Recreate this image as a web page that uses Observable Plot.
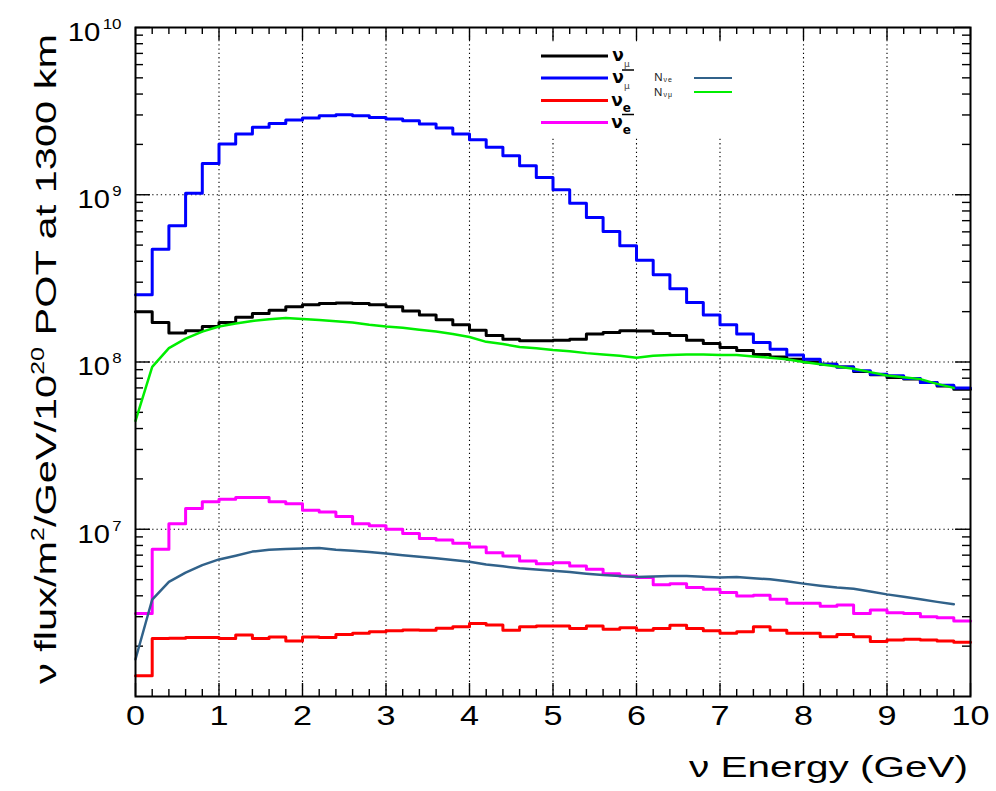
<!DOCTYPE html>
<html>
<head>
<meta charset="utf-8">
<script src="https://cdn.jsdelivr.net/npm/d3@7"></script>
<script src="https://cdn.jsdelivr.net/npm/@observablehq/plot@0.6"></script>
<style>
  body { margin: 0; background: #fff; }
  #chart { position: relative; width: 996px; height: 791px; }
  svg { font-family: "Liberation Sans", Arial, sans-serif; }
</style>
</head>
<body>
<div id="chart"></div>
<script>
// ---------- data ----------
const binWidth = 0.2;           // GeV, 50 bins from 0 to 10
const nBins = 50;

// nu_mu (black histogram)
const numuFlux = [2.00e8, 1.72e8, 1.49e8, 1.54e8, 1.63e8, 1.72e8, 1.85e8, 1.95e8, 2.04e8, 2.14e8,
  2.20e8, 2.24e8, 2.25e8, 2.24e8, 2.20e8, 2.14e8, 2.02e8, 1.91e8, 1.79e8, 1.67e8,
  1.55e8, 1.44e8, 1.37e8, 1.34e8, 1.34e8, 1.35e8, 1.37e8, 1.47e8, 1.50e8, 1.54e8,
  1.53e8, 1.48e8, 1.44e8, 1.35e8, 1.29e8, 1.22e8, 1.17e8, 1.11e8, 1.07e8, 1.04e8,
  1.00e8, 9.7e7, 9.35e7, 8.77e7, 8.38e7, 8.07e7, 7.9e7, 7.54e7, 7.18e7, 6.88e7];

// anti nu_mu (blue histogram)
const numubarFlux = [2.52e8, 4.73e8, 6.53e8, 1.02e9, 1.54e9, 2.01e9, 2.31e9, 2.53e9, 2.67e9, 2.80e9,
  2.88e9, 2.97e9, 3.01e9, 2.97e9, 2.90e9, 2.84e9, 2.77e9, 2.65e9, 2.51e9, 2.31e9,
  2.13e9, 1.92e9, 1.71e9, 1.49e9, 1.27e9, 1.07e9, 8.9e8, 7.3e8, 6.03e8, 4.95e8,
  4.06e8, 3.32e8, 2.74e8, 2.27e8, 1.91e8, 1.67e8, 1.47e8, 1.31e8, 1.19e8, 1.10e8,
  1.04e8, 9.7e7, 9.35e7, 8.85e7, 8.46e7, 8.27e7, 7.96e7, 7.54e7, 7.27e7, 6.98e7];

// nu_e (red histogram)
const nueFlux = [1.33e6, 2.22e6, 2.23e6, 2.25e6, 2.25e6, 2.22e6, 2.33e6, 2.22e6, 2.27e6, 2.15e6,
  2.27e6, 2.25e6, 2.35e6, 2.39e6, 2.44e6, 2.47e6, 2.50e6, 2.49e6, 2.56e6, 2.61e6,
  2.73e6, 2.68e6, 2.49e6, 2.61e6, 2.64e6, 2.64e6, 2.55e6, 2.64e6, 2.52e6, 2.58e6,
  2.49e6, 2.55e6, 2.67e6, 2.55e6, 2.47e6, 2.39e6, 2.44e6, 2.61e6, 2.49e6, 2.39e6,
  2.39e6, 2.28e6, 2.35e6, 2.28e6, 2.13e6, 2.18e6, 2.20e6, 2.18e6, 2.15e6, 2.11e6];

// anti nu_e (magenta histogram)
const nuebarFlux = [3.13e6, 7.59e6, 1.08e7, 1.33e7, 1.46e7, 1.51e7, 1.55e7, 1.55e7, 1.46e7, 1.42e7,
  1.30e7, 1.27e7, 1.19e7, 1.08e7, 1.05e7, 1.00e7, 9.42e6, 8.79e6, 8.63e6, 8.24e6,
  7.83e6, 7.24e6, 6.92e6, 6.46e6, 6.22e6, 6.31e6, 6.03e6, 5.77e6, 5.42e6, 5.26e6,
  5.14e6, 4.65e6, 4.73e6, 4.48e6, 4.38e6, 4.18e6, 3.99e6, 4.03e6, 3.81e6, 3.61e6,
  3.61e6, 3.47e6, 3.52e6, 3.13e6, 3.29e6, 3.17e6, 3.13e6, 3.00e6, 2.96e6, 2.83e6];

// smooth curves N_nu_e and N_nu_mu
const smoothEnergy = [0, 0.2, 0.4, 0.6, 0.8, 1.0, 1.2, 1.4, 1.6, 1.8,
  2.0, 2.2, 2.4, 2.6, 2.8, 3.0, 3.2, 3.4, 3.6, 3.8,
  4.0, 4.2, 4.4, 4.6, 4.8, 5.0, 5.2, 5.4, 5.6, 5.8,
  6.0, 6.2, 6.4, 6.6, 6.8, 7.0, 7.2, 7.4, 7.6, 7.8,
  8.0, 8.2, 8.4, 8.6, 8.8, 9.0, 9.2, 9.4, 9.6, 9.8];
const nNumu = [4.45e7, 9.35e7, 1.21e8, 1.38e8, 1.52e8, 1.63e8, 1.70e8, 1.76e8, 1.80e8, 1.83e8,
  1.81e8, 1.78e8, 1.75e8, 1.72e8, 1.67e8, 1.63e8, 1.60e8, 1.56e8, 1.52e8, 1.47e8,
  1.41e8, 1.32e8, 1.28e8, 1.23e8, 1.21e8, 1.18e8, 1.16e8, 1.13e8, 1.11e8, 1.09e8,
  1.06e8, 1.09e8, 1.10e8, 1.11e8, 1.11e8, 1.10e8, 1.10e8, 1.08e8, 1.06e8, 1.04e8,
  1.00e8, 9.7e7, 9.4e7, 9.1e7, 8.7e7, 8.3e7, 8.1e7, 7.9e7, 7.4e7, 7.0e7];
const nNue = [1.67e6, 3.8e6, 4.85e6, 5.5e6, 6.1e6, 6.6e6, 6.95e6, 7.35e6, 7.55e6, 7.62e6,
  7.66e6, 7.72e6, 7.55e6, 7.45e6, 7.3e6, 7.15e6, 7.0e6, 6.85e6, 6.7e6, 6.55e6,
  6.4e6, 6.15e6, 6.0e6, 5.85e6, 5.75e6, 5.64e6, 5.55e6, 5.42e6, 5.32e6, 5.25e6,
  5.19e6, 5.22e6, 5.25e6, 5.25e6, 5.2e6, 5.15e6, 5.19e6, 5.1e6, 5.02e6, 4.88e6,
  4.73e6, 4.6e6, 4.48e6, 4.41e6, 4.25e6, 4.08e6, 3.95e6, 3.81e6, 3.68e6, 3.56e6];

// axes
const xTicks = [0, 1, 2, 3, 4, 5, 6, 7, 8, 9, 10];
const yTicks = [1e7, 1e8, 1e9, 1e10];
const yTickLabels = ["10^7", "10^8", "10^9", "10^10"];
const xTitle = "ν Energy (GeV)";

// ---------- build tables ----------
function histRows(vals) {
  const rows = vals.map((v, i) => ({E: i * binWidth, v}));
  rows.push({E: nBins * binWidth, v: vals[vals.length - 1]});
  return rows;
}
const smoothRows = (vals) => vals.map((v, i) => ({E: smoothEnergy[i], v}));

const xMinor = d3.range(0, nBins + 1).map(i => +(i * binWidth).toFixed(2)).filter(d => !Number.isInteger(d));
const yMinor = [];
for (let k = 6; k < 10; k++) for (let m = 2; m <= 9; m++) yMinor.push(m * Math.pow(10, k));
const xGrid = xTicks.filter(d => d > 0 && d < 10);
const yGrid = yTicks.filter(d => d < 1e10);

const W = 996, H = 791, mL = 135, mR = 26, mT = 27, mB = 95;
const fw = W - mL - mR, fh = H - mT - mB;
const gridStyle = {stroke: "black", strokeWidth: 1.1, strokeDasharray: "1.3,3"};
const tickStyle = {stroke: "black", strokeWidth: 1.4};

const chart = Plot.plot({
  width: W, height: H,
  marginLeft: mL, marginRight: mR, marginTop: mT, marginBottom: mB,
  style: {fontFamily: "'Liberation Sans', Arial, sans-serif", background: "white", color: "black"},
  x: {domain: [0, 10]},
  y: {type: "log", domain: [1e6, 1e10]},
  marks: [
    Plot.ruleX(xGrid, {x: d => d, ...gridStyle}),
    Plot.ruleY(yGrid, {y: d => d, ...gridStyle}),
    // ticks (inside the frame, ROOT style)
    Plot.tickX(xTicks, {x: d => d, insetTop: fh - 13, ...tickStyle}),
    Plot.tickX(xMinor, {x: d => d, insetTop: fh - 7, ...tickStyle}),
    Plot.tickX(xTicks, {x: d => d, insetBottom: fh - 13, ...tickStyle}),
    Plot.tickX(xMinor, {x: d => d, insetBottom: fh - 7, ...tickStyle}),
    Plot.tickY(yTicks, {y: d => d, insetRight: fw - 15, ...tickStyle}),
    Plot.tickY(yMinor, {y: d => d, insetRight: fw - 8, ...tickStyle}),
    Plot.tickY(yTicks, {y: d => d, insetLeft: fw - 15, ...tickStyle}),
    Plot.tickY(yMinor, {y: d => d, insetLeft: fw - 8, ...tickStyle}),
    // histograms
    Plot.line(histRows(numuFlux), {x: "E", y: "v", curve: "step-after", stroke: "#000000", strokeWidth: 3}),
    Plot.line(histRows(numubarFlux), {x: "E", y: "v", curve: "step-after", stroke: "#0000ff", strokeWidth: 3}),
    Plot.line(histRows(nueFlux), {x: "E", y: "v", curve: "step-after", stroke: "#ff0000", strokeWidth: 3}),
    Plot.line(histRows(nuebarFlux), {x: "E", y: "v", curve: "step-after", stroke: "#ff00ff", strokeWidth: 3}),
    // smooth curves
    Plot.line(smoothRows(nNue), {x: "E", y: "v", stroke: "#31628a", strokeWidth: 2.5}),
    Plot.line(smoothRows(nNumu), {x: "E", y: "v", stroke: "#00ee00", strokeWidth: 2.5}),
    Plot.frame({stroke: "black", strokeWidth: 2}),
    Plot.axisX(xTicks, {tickSize: 0, tickPadding: 9, fontSize: 28, label: null}),
    Plot.axisY(yTicks, {tickSize: 0, tickPadding: 14, fontSize: 26, dy: 5, label: null,
      tickFormat: d => yTickLabels[yTicks.indexOf(d)]})
  ]
});

document.getElementById("chart").appendChild(chart);
const svg = d3.select(chart);

function stretch(el, f) {
  const L = el.getComputedTextLength();
  el.setAttribute("textLength", (L * f).toFixed(1));
  el.setAttribute("lengthAdjust", "spacingAndGlyphs");
}

// y tick labels: 10 with superscript exponent
svg.selectAll('g[aria-label="y-axis tick label"] text').each(function() {
  const s = this.textContent;
  const [base, exp] = s.split("^");
  const t = d3.select(this);
  t.text(null);
  t.append("tspan").text(base);
  t.append("tspan").attr("dx", 2).attr("dy", -12).attr("font-size", 15).text(exp);
  stretch(this, 1.18);
});
svg.selectAll('g[aria-label="x-axis tick label"] text').each(function() { stretch(this, 1.22); });

// axis titles
svg.append("text")
  .attr("x", 968).attr("y", 777)
  .attr("text-anchor", "end")
  .attr("font-size", 30)
  .attr("textLength", 279).attr("lengthAdjust", "spacingAndGlyphs")
  .text(xTitle);

const yt = svg.append("text")
  .attr("transform", "translate(56,684) rotate(-90)")
  .attr("text-anchor", "start")
  .attr("font-size", 30)
  .attr("textLength", 650).attr("lengthAdjust", "spacingAndGlyphs");
yt.append("tspan").text("ν flux/m");
yt.append("tspan").attr("font-size", 18).attr("dy", -12).text("2");
yt.append("tspan").attr("dy", 12).text("/GeV/10");
yt.append("tspan").attr("font-size", 18).attr("dy", -12).text("20");
yt.append("tspan").attr("dy", 12).text(" POT at 1300 km");

// ---------- legend ----------
const leg = svg.append("g");
leg.append("rect").attr("x", 533).attr("y", 43).attr("width", 212).attr("height", 94).attr("fill", "white");
const legendItems = [
  {color: "#000000", y: 56, sub: "μ", bar: false, bold: false},
  {color: "#0000ff", y: 78, sub: "μ", bar: true, bold: false},
  {color: "#ff0000", y: 100.5, sub: "e", bar: false, bold: true},
  {color: "#ff00ff", y: 122.5, sub: "e", bar: true, bold: true}
];
legendItems.forEach(it => {
  leg.append("line").attr("x1", 541).attr("x2", 608).attr("y1", it.y).attr("y2", it.y)
    .attr("stroke", it.color).attr("stroke-width", 3);
  const t = leg.append("text").attr("x", 621).attr("y", it.y + 5)
    .attr("font-family", "'DejaVu Sans', sans-serif");
  t.append("tspan").attr("font-size", 17).attr("font-weight", "bold").text("ν");
  t.append("tspan").attr("font-size", it.bold ? 12 : 9).attr("dy", 6)
    .attr("font-weight", it.bold ? "bold" : "normal")
    .attr("fill", it.bold ? "#000" : "#444").text(it.sub);
  if (it.bar) {
    leg.append("line").attr("x1", 622).attr("x2", 634).attr("y1", it.y - 8).attr("y2", it.y - 8)
      .attr("stroke", "black").attr("stroke-width", 1.5);
  }
});
const legend2 = [
  {color: "#31628a", y: 78, ty: 81, sub: ["ν", "e"]},
  {color: "#00ee00", y: 92, ty: 96, sub: ["ν", "μ"]}
];
legend2.forEach(it => {
  const t = leg.append("text").attr("x", 663).attr("y", it.ty).attr("font-size", 11.5).attr("fill", "#222");
  t.append("tspan").text("N");
  t.append("tspan").attr("font-size", 7).attr("dy", 1).attr("dx", 1).text(it.sub[0]);
  t.append("tspan").attr("font-size", 7).attr("dy", 0).attr("dx", 1).text(it.sub[1]);
  leg.append("line").attr("x1", 694).attr("x2", 732).attr("y1", it.y).attr("y2", it.y)
    .attr("stroke", it.color).attr("stroke-width", 2);
});
</script>
</body>
</html>
